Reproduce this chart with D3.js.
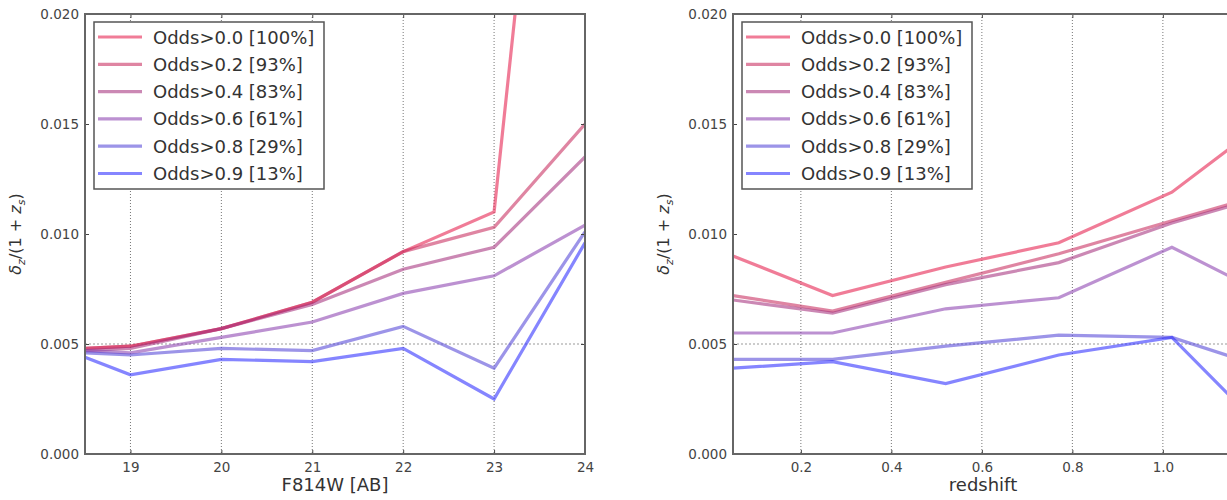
<!DOCTYPE html>
<html><head><meta charset="utf-8">
<script src="https://cdn.jsdelivr.net/npm/d3@7"></script>
<style>
body{margin:0;background:#fff;}
text{font-family:"DejaVu Sans",sans-serif;}
</style></head>
<body><svg id="c" width="1227" height="500"></svg>
<script>
const seriesLabels = ["Odds>0.0 [100%]","Odds>0.2 [93%]","Odds>0.4 [83%]","Odds>0.6 [61%]","Odds>0.8 [29%]","Odds>0.9 [13%]"];
const seriesColors = ["rgb(230,30,75)","rgb(200,45,95)","rgb(165,50,125)","rgb(140,65,175)","rgb(85,70,215)","rgb(45,45,255)"];

// Left panel: magnitude
const magX = [18.5, 19, 20, 21, 22, 23, 24];
const magOdds00 = [0.0048, 0.0049, 0.0057, 0.0069, 0.0092, 0.0110, 0.0500];
const magOdds02 = [0.0048, 0.0049, 0.0057, 0.0069, 0.0092, 0.0103, 0.0150];
const magOdds04 = [0.0047, 0.0048, 0.0057, 0.0068, 0.0084, 0.0094, 0.0135];
const magOdds06 = [0.0047, 0.0046, 0.0053, 0.0060, 0.0073, 0.0081, 0.0104];
const magOdds08 = [0.0046, 0.0045, 0.0048, 0.0047, 0.0058, 0.0039, 0.0101];
const magOdds09 = [0.0044, 0.0036, 0.0043, 0.0042, 0.0048, 0.0025, 0.0096];
const magTicks = [19, 20, 21, 22, 23, 24];

// Right panel: redshift
const zX = [0.05, 0.27, 0.52, 0.77, 1.02, 1.155];
const zOdds00 = [0.0090, 0.0072, 0.0085, 0.0096, 0.0119, 0.0140];
const zOdds02 = [0.0072, 0.0065, 0.0078, 0.0091, 0.0106, 0.0114];
const zOdds04 = [0.0070, 0.0064, 0.0077, 0.0087, 0.0105, 0.0113];
const zOdds06 = [0.0055, 0.0055, 0.0066, 0.0071, 0.0094, 0.0080];
const zOdds08 = [0.0043, 0.0043, 0.0049, 0.0054, 0.0053, 0.0044];
const zOdds09 = [0.0039, 0.0042, 0.0032, 0.0045, 0.0053, 0.0025];
const zTicks = [0.2, 0.4, 0.6, 0.8, 1.0];

const yTicks = [0.000, 0.005, 0.010, 0.015, 0.020];

const svg = d3.select("#c");

function panel(id, left, xDomain, xs, series, xTicks, xFmt, xLabel) {
  const W = 500, H = 440, top = 14;
  const x = d3.scaleLinear().domain(xDomain).range([left, left + W]);
  const y = d3.scaleLinear().domain([0, 0.020]).range([top + H, top]);
  const g = svg.append("g");
  g.append("clipPath").attr("id", "clip" + id).append("rect")
    .attr("x", left).attr("y", top).attr("width", W).attr("height", H);

  // vertical dotted grid
  g.append("g").selectAll("line").data(xTicks).join("line")
    .attr("x1", d => x(d)).attr("x2", d => x(d)).attr("y1", top).attr("y2", top + H)
    .attr("stroke", "#777").attr("stroke-width", 1).attr("stroke-dasharray", "1,2");
  // horizontal dotted line at 0.005
  g.append("line").attr("x1", left).attr("x2", left + W).attr("y1", y(0.005)).attr("y2", y(0.005))
    .attr("stroke", "#999").attr("stroke-width", 1).attr("stroke-dasharray", "2,2")
    .attr("clip-path", `url(#clip${id})`);

  const line = d3.line().x(d => x(d[0])).y(d => y(d[1]));
  const lg = g.append("g").attr("clip-path", `url(#clip${id})`);
  series.forEach((vals, i) => {
    lg.append("path").datum(xs.map((xv, j) => [xv, vals[j]]))
      .attr("d", line).attr("fill", "none")
      .attr("stroke", seriesColors[i]).attr("stroke-opacity", 0.58)
      .attr("stroke-width", 3.2).attr("stroke-linejoin", "miter");
  });

  // axes (ticks inward)
  const axB = d3.axisBottom(x).tickValues(xTicks).tickFormat(xFmt).tickSize(-4).tickPadding(8);
  const axT = d3.axisTop(x).tickValues(xTicks).tickFormat("").tickSize(-4);
  const axL = d3.axisLeft(y).tickValues(yTicks).tickFormat(d3.format(".3f")).tickSize(-4).tickPadding(6);
  const axR = d3.axisRight(y).tickValues(yTicks).tickFormat("").tickSize(-4);
  function style(sel) {
    sel.select(".domain").remove();
    sel.selectAll(".tick line").attr("stroke", "#444");
    sel.selectAll(".tick text").attr("fill", "#444").attr("font-size", "13.5px")
      .attr("font-family", "DejaVu Sans, sans-serif");
  }
  g.append("g").attr("transform", `translate(0,${top + H})`).call(axB).call(style);
  g.append("g").attr("transform", `translate(0,${top})`).call(axT).call(style);
  g.append("g").attr("transform", `translate(${left},0)`).call(axL).call(style);
  g.append("g").attr("transform", `translate(${left + W},0)`).call(axR).call(style);

  // frame
  g.append("rect").attr("x", left).attr("y", top).attr("width", W).attr("height", H)
    .attr("fill", "none").attr("stroke", "#666").attr("stroke-width", 2);

  // x label
  g.append("text").attr("x", left + W / 2).attr("y", 491).attr("text-anchor", "middle")
    .attr("font-size", "18px").attr("fill", "#333").text(xLabel);

  // y label (mathtext-like)
  const yl = g.append("text").attr("transform", `translate(${left - 64},${top + H / 2}) rotate(-90)`)
    .attr("text-anchor", "middle").attr("font-size", "16px").attr("fill", "#333")
    .attr("font-family", "DejaVu Serif, serif");
  yl.append("tspan").attr("font-style", "italic").text("δ");
  yl.append("tspan").attr("font-style", "italic").attr("font-size", "11px").attr("dy", 4).text("z");
  yl.append("tspan").attr("dy", -4).text("/(1 + ");
  yl.append("tspan").attr("font-style", "italic").text("z");
  yl.append("tspan").attr("font-style", "italic").attr("font-size", "11px").attr("dy", 4).text("s");
  yl.append("tspan").attr("dy", -4).text(")");

  // legend
  const lx = left + 9, ly = top + 8, lw = 230, lh = 167;
  const leg = g.append("g");
  leg.append("rect").attr("x", lx).attr("y", ly).attr("width", lw).attr("height", lh)
    .attr("fill", "#fff").attr("stroke", "#555").attr("stroke-width", 1.5);
  seriesLabels.forEach((lab, i) => {
    const cy = ly + 15 + i * 27.3;
    leg.append("line").attr("x1", lx + 4).attr("x2", lx + 48).attr("y1", cy).attr("y2", cy)
      .attr("stroke", seriesColors[i]).attr("stroke-opacity", 0.58).attr("stroke-width", 3.2);
    leg.append("text").attr("x", lx + 59).attr("y", cy + 6.5).attr("font-size", "18px")
      .attr("fill", "#333").text(lab);
  });
}

panel("A", 85, [18.5, 24], magX, [magOdds00, magOdds02, magOdds04, magOdds06, magOdds08, magOdds09],
  magTicks, d3.format("d"), "F814W [AB]");
panel("B", 733, [0.05, 1.155], zX, [zOdds00, zOdds02, zOdds04, zOdds06, zOdds08, zOdds09],
  zTicks, d3.format(".1f"), "redshift");
</script></body></html>
